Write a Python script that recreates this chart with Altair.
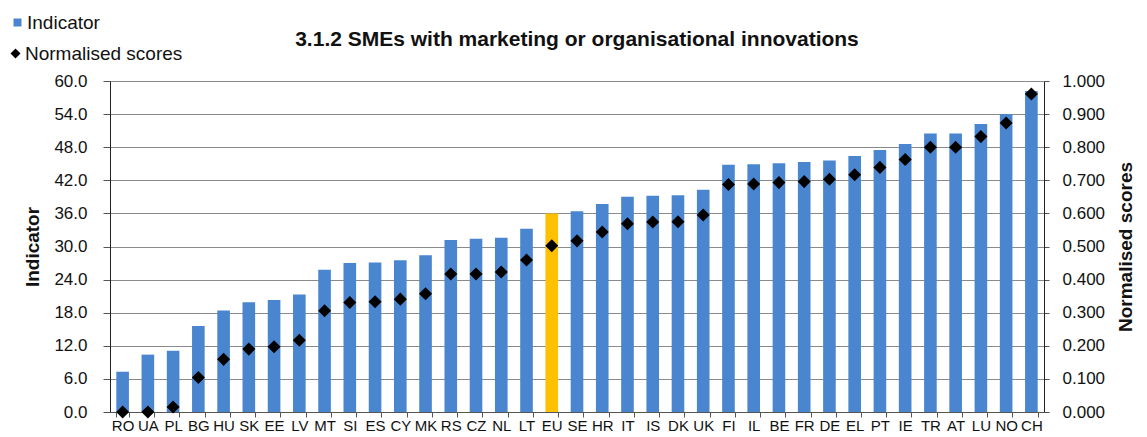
import altair as alt
import pandas as pd

countries = ["RO", "UA", "PL", "BG", "HU", "SK", "EE", "LV", "MT", "SI", "ES", "CY",
             "MK", "RS", "CZ", "NL", "LT", "EU", "SE", "HR", "IT", "IS", "DK", "UK",
             "FI", "IL", "BE", "FR", "DE", "EL", "PT", "IE", "TR", "AT", "LU", "NO", "CH"]
indicator = [7.3, 10.4, 11.1, 15.6, 18.4, 19.9, 20.3, 21.3, 25.8, 27.0, 27.1, 27.5,
             28.4, 31.2, 31.4, 31.6, 33.2, 36.0, 36.4, 37.7, 39.0, 39.2, 39.3, 40.3,
             44.8, 44.9, 45.1, 45.3, 45.6, 46.4, 47.5, 48.6, 50.5, 50.5, 52.2, 54.0, 58.2]
scores = [0.0, 0.0, 0.015, 0.104, 0.159, 0.19, 0.197, 0.217, 0.306, 0.331, 0.333, 0.341,
          0.357, 0.417, 0.417, 0.423, 0.459, 0.502, 0.517, 0.544, 0.569, 0.574, 0.575, 0.595,
          0.687, 0.689, 0.693, 0.696, 0.703, 0.717, 0.739, 0.763, 0.800, 0.800, 0.832, 0.873, 0.961]
left_ticks = [0, 6, 12, 18, 24, 30, 36, 42, 48, 54, 60]
right_ticks = [0, 0.1, 0.2, 0.3, 0.4, 0.5, 0.6, 0.7, 0.8, 0.9, 1.0]

df = pd.DataFrame({"country": countries, "indicator": indicator, "score": scores})
df["series"] = ["EU" if c == "EU" else "Indicator" for c in countries]
df["marker"] = "Normalised scores"

FONT = "Liberation Sans"
AXC = "#555555"

x_enc = alt.X("country:N", sort=countries, title=None,
              scale=alt.Scale(paddingInner=0.5, paddingOuter=0.25),
              axis=alt.Axis(labelAngle=0, labelFontSize=15, labelColor="#111", labelFont=FONT,
                            tickBand="extent", tickSize=5, tickColor=AXC, domainColor=AXC,
                            labelPadding=1, labelOverlap=False, labelBound=False, labelFlush=False))

bars = alt.Chart(df).mark_bar().encode(
    x=x_enc,
    y=alt.Y("indicator:Q",
            scale=alt.Scale(domain=[0, 60], nice=False),
            axis=alt.Axis(values=left_ticks, format=".1f", title="Indicator", grid=True,
                          gridColor="#8a8a8a", gridWidth=1, tickSize=7, tickColor=AXC,
                          domainColor="#222", labelFontSize=17, labelFont=FONT, labelColor="#111",
                          labelPadding=16, titleFontSize=19, titleFont=FONT, titleFontWeight="bold",
                          titleColor="#111", titlePadding=11)),
    color=alt.Color("series:N",
                    scale=alt.Scale(domain=["Indicator", "EU"], range=["#4a86d0", "#ffc000"]),
                    legend=alt.Legend(values=["Indicator"], title=None, orient="none",
                                      legendX=-102, legendY=-68, symbolType="square",
                                      symbolSize=64, symbolStrokeWidth=0, labelFontSize=19,
                                      labelFont=FONT, labelColor="#111", labelOffset=0, padding=0)),
)

points = alt.Chart(df).mark_point(filled=True, color="black", size=170, opacity=1).encode(
    x=alt.X("country:N", sort=countries),
    y=alt.Y("score:Q",
            scale=alt.Scale(domain=[0, 1], nice=False),
            axis=alt.Axis(orient="right", values=right_ticks, format=".3f",
                          title="Normalised scores", titleAngle=270, grid=False,
                          tickSize=5, tickColor=AXC, domainColor="#222", labelFontSize=17,
                          labelFont=FONT, labelColor="#111", labelPadding=13, titleFontSize=19,
                          titleFont=FONT, titleFontWeight="bold", titleColor="#111",
                          titlePadding=31)),
    shape=alt.Shape("marker:N", scale=alt.Scale(range=["diamond"]),
                    legend=alt.Legend(title=None, orient="none", legendX=-104, legendY=-37,
                                      symbolSize=100, symbolFillColor="black",
                                      symbolStrokeColor="black", labelFontSize=19,
                                      labelFont=FONT, labelColor="#111", labelOffset=0, padding=0)),
)

chart = alt.layer(bars, points).resolve_scale(
    y="independent", color="independent", shape="independent"
).properties(
    width=934, height=331,
    autosize=alt.AutoSizeParams(type="none"),
    padding={"left": 102, "top": 73, "right": 95, "bottom": 22},
    title=alt.Title("3.1.2 SMEs with marketing or organisational innovations",
                    font=FONT, fontSize=21, fontWeight="bold", color="#111",
                    anchor="middle", frame="group", baseline="alphabetic", offset=-54),
).configure_view(stroke=None)

chart.save("out.html", embed_options={"renderer": "svg", "actions": False})
